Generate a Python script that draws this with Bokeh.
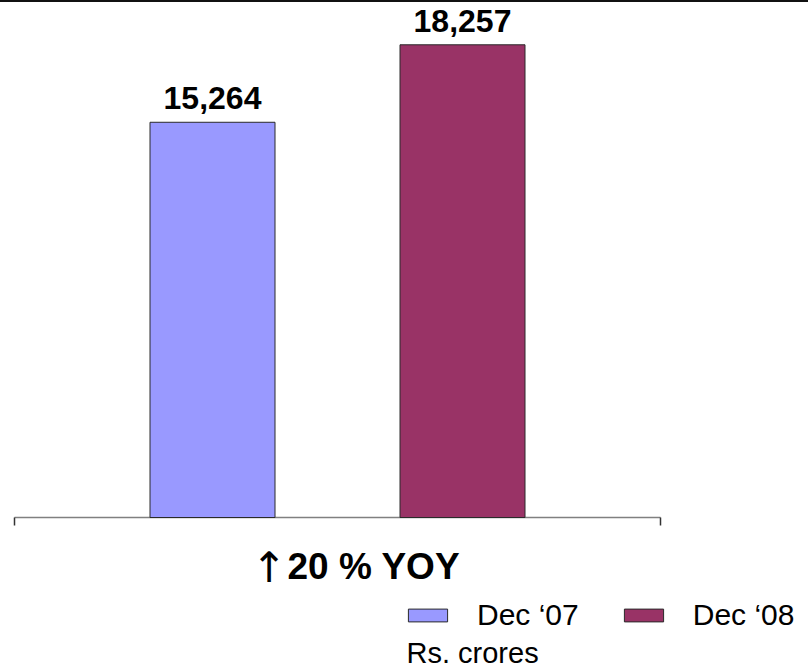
from bokeh.plotting import figure
from bokeh.models import (ColumnDataSource, Range1d, Label, Div)
from bokeh.transform import dodge
from bokeh.layouts import column
from bokeh.embed import file_html
from bokeh.resources import INLINE

categories = ["Dec \u201807", "Dec \u201808"]
values = [15264, 18257]
value_labels = ["15,264", "18,257"]
colors = ["#9999FF", "#993366"]
growth_text = "20 % YOY"
unit_text = "Rs. crores"

W, H = 808, 665
PAD = 0.292            # category padding on each side of the axis
PX_PER_CAT = 250.0     # pixels per category slot
AXIS_LEFT_PX = 14      # axis start from left edge
AXIS_BOTTOM_PX = 150   # axis height from bottom edge
Y_TOP = 19890
n = len(categories)

x_start = -PAD - AXIS_LEFT_PX / PX_PER_CAT
x_end = x_start + W / PX_PER_CAT
px_per_unit_y = (H - AXIS_BOTTOM_PX) / Y_TOP
y_start = -AXIS_BOTTOM_PX / px_per_unit_y

xpos = [i + 0.5 for i in range(n)]
source = ColumnDataSource(dict(x=xpos, cat=categories, val=values, lab=value_labels, col=colors))

p = figure(width=W, height=H, output_backend="svg", toolbar_location=None,
           x_range=Range1d(x_start, x_end), y_range=Range1d(y_start, Y_TOP),
           min_border=0, min_border_left=0, min_border_right=0,
           min_border_top=0, min_border_bottom=0)
p.outline_line_color = None
p.xgrid.visible = False
p.ygrid.visible = False
p.xaxis.visible = False
p.yaxis.visible = False
p.background_fill_color = "white"
p.border_fill_color = "white"

# category axis: baseline with end ticks
tick_len = 8 / px_per_unit_y
p.segment(x0=[-PAD], y0=[0], x1=[n + PAD], y1=[0], line_color="#808080", line_width=1.5)
p.segment(x0=[-PAD, n + PAD], y0=[0, 0], x1=[-PAD, n + PAD], y1=[-tick_len, -tick_len],
          line_color="#333333", line_width=1.5)

r = p.vbar(x="x", top="val", width=0.5, source=source, fill_color="col",
           line_color="#2a2a2a", line_width=1, legend_field="cat")

p.text(x="x", y=dodge("val", 24 / px_per_unit_y), text="lab", source=source,
       text_align="center", text_baseline="alphabetic", text_font_size="32px",
       text_font_style="bold", text_font={"value": "Liberation Sans"},
       text_color="black")

# growth annotation
p.add_layout(Label(x=251, y=100, x_units="screen", y_units="screen", text="\u2191",
                   text_font="DejaVu Sans", text_font_size="42px",
                   text_baseline="alphabetic", text_color="black"))
p.add_layout(Label(x=287, y=101, x_units="screen", y_units="screen", text=growth_text,
                   text_font="Liberation Sans", text_font_size="37px",
                   text_font_style="bold", text_baseline="alphabetic",
                   text_color="black"))
p.add_layout(Label(x=406, y=15, x_units="screen", y_units="screen", text=unit_text,
                   text_font="Liberation Sans", text_font_size="29px",
                   text_baseline="alphabetic", text_color="black"))

leg = p.legend[0]
leg.location = (403, 35)
leg.orientation = "horizontal"
leg.glyph_width = 49
leg.glyph_height = 16
leg.label_standoff = 25
leg.spacing = 40
leg.padding = 0
leg.margin = 0
leg.border_line_alpha = 0
leg.background_fill_alpha = 0
leg.label_text_font = "Liberation Sans"
leg.label_text_font_size = "30px"
leg.label_text_color = "black"

top_line = Div(width=W, height=2, margin=(0, 0, 0, 0),
               styles={"background-color": "#111111"})
layout = column(top_line, p, spacing=0)

open("out.html", "w").write(file_html(layout, INLINE))
